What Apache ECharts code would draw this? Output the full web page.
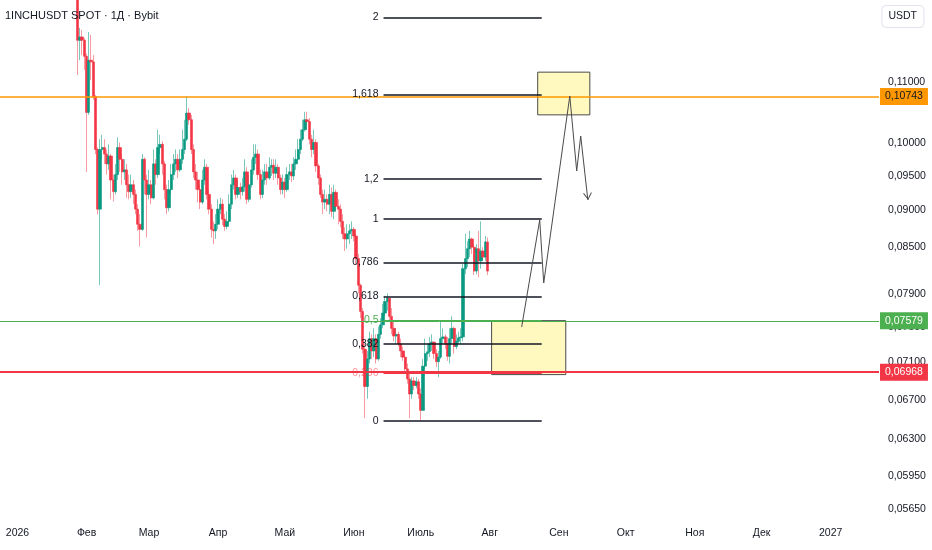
<!DOCTYPE html>
<html><head><meta charset="utf-8">
<script src="https://cdn.jsdelivr.net/npm/echarts@6/dist/echarts.min.js"></script>
<style>html,body{margin:0;padding:0;background:#fff}#c{width:932px;height:550px}</style>
</head><body><div id="c"></div>
<script>
const FONT = "'Liberation Sans','Roboto',sans-serif";
// daily candles, consecutive days; day index counted from 1 Jan 2026
const firstDay = 27;
const firstOpen = 0.1309;
const closes = [
0.1174,0.1180,0.1174,0.1145,0.1049,0.1138,0.1135,0.1075,0.0990,0.0902,
0.0990,0.0993,0.0983,0.0968,0.0980,0.0944,0.0927,0.0952,0.0993,0.0975,
0.0956,0.0959,0.0937,0.0927,0.0937,0.0923,0.0902,0.0881,0.0874,0.0975,
0.0944,0.0923,0.0937,0.0918,0.0968,0.0952,0.0993,0.0998,0.0968,0.0930,
0.0904,0.0930,0.0952,0.0968,0.0975,0.0959,0.0975,0.0990,0.1006,0.1048,
0.1037,0.0990,0.0956,0.0944,0.0930,0.0912,0.0944,0.0963,0.0923,0.0902,
0.0874,0.0872,0.0881,0.0902,0.0909,0.0888,0.0878,0.0885,0.0909,0.0937,
0.0947,0.0923,0.0933,0.0927,0.0934,0.0956,0.0916,0.0937,0.0959,0.0978,
0.0983,0.0952,0.0923,0.0944,0.0956,0.0947,0.0963,0.0966,0.0954,0.0963,
0.0947,0.0930,0.0941,0.0930,0.0952,0.0956,0.0950,0.0968,0.0975,0.0990,
0.1006,0.1021,0.1037,0.1034,0.1006,0.0990,0.1001,0.0965,0.0947,0.0923,
0.0912,0.0916,0.0909,0.0923,0.0899,0.0926,0.0906,0.0902,0.0885,0.0868,
0.0861,0.0868,0.0872,0.0874,0.0865,0.0835,0.0801,0.0769,0.0725,0.0684,
0.0714,0.0737,0.0723,0.0737,0.0714,0.0742,0.0753,0.0767,0.0781,0.0785,
0.0763,0.0749,0.0740,0.0742,0.0731,0.0723,0.0716,0.0703,0.0692,0.0676,
0.0690,0.0685,0.0689,0.0676,0.0659,0.0706,0.0720,0.0722,0.0731,0.0733,
0.0720,0.0711,0.0716,0.0737,0.0739,0.0731,0.0717,0.0737,0.0749,0.0728,
0.0734,0.0738,0.0739,0.0822,0.0835,0.0848,0.0861,0.0850,0.0819,0.0848,
0.0832,0.0845,0.0837,0.0857,0.0819];
const highs = [
0.1319,0.1197,0.1193,0.1178,0.1150,0.1189,0.1184,0.1147,0.1078,0.0993,
0.1006,0.1013,0.1006,0.0990,0.0998,0.0983,0.0952,0.0968,0.1009,0.1001,
0.0983,0.0975,0.0968,0.0952,0.0952,0.0944,0.0930,0.0909,0.0895,0.0983,
0.0978,0.0952,0.0959,0.0944,0.0990,0.0975,0.1021,0.1013,0.1003,0.0972,
0.0937,0.0944,0.0968,0.0983,0.0990,0.0983,0.0990,0.1021,0.1037,0.1075,
0.1056,0.1045,0.0998,0.0968,0.0956,0.0937,0.0959,0.0975,0.0968,0.0930,
0.0909,0.0885,0.0895,0.0916,0.0918,0.0916,0.0895,0.0899,0.0923,0.0952,
0.0959,0.0952,0.0944,0.0940,0.0947,0.0975,0.0963,0.0952,0.0975,0.0998,
0.0998,0.0990,0.0959,0.0959,0.0968,0.0968,0.0978,0.0975,0.0975,0.0975,
0.0968,0.0952,0.0952,0.0947,0.0963,0.0968,0.0968,0.0978,0.0990,0.1006,
0.1021,0.1037,0.1050,0.1050,0.1040,0.1013,0.1021,0.1006,0.0968,0.0952,
0.0930,0.0930,0.0923,0.0937,0.0933,0.0937,0.0930,0.0916,0.0909,0.0895,
0.0877,0.0881,0.0881,0.0885,0.0877,0.0868,0.0841,0.0803,0.0773,0.0731,
0.0723,0.0745,0.0742,0.0749,0.0742,0.0751,0.0761,0.0778,0.0788,0.0791,
0.0785,0.0773,0.0758,0.0749,0.0745,0.0737,0.0728,0.0720,0.0709,0.0698,
0.0694,0.0694,0.0694,0.0692,0.0682,0.0714,0.0737,0.0731,0.0739,0.0742,
0.0734,0.0725,0.0723,0.0758,0.0749,0.0742,0.0739,0.0749,0.0763,0.0751,
0.0742,0.0745,0.0749,0.0828,0.0868,0.0858,0.0872,0.0863,0.0854,0.0854,
0.0872,0.0885,0.0850,0.0865,0.0863];
const lows = [
0.1112,0.1138,0.1147,0.1121,0.0956,0.1045,0.1103,0.1070,0.0983,0.0895,
0.0801,0.0975,0.0968,0.0952,0.0959,0.0916,0.0913,0.0923,0.0944,0.0956,
0.0937,0.0944,0.0918,0.0916,0.0918,0.0909,0.0895,0.0872,0.0851,0.0872,
0.0923,0.0863,0.0916,0.0909,0.0916,0.0937,0.0947,0.0983,0.0952,0.0916,
0.0895,0.0899,0.0923,0.0944,0.0956,0.0947,0.0956,0.0968,0.0983,0.1003,
0.1029,0.0983,0.0947,0.0930,0.0912,0.0902,0.0909,0.0937,0.0916,0.0895,
0.0863,0.0854,0.0861,0.0874,0.0895,0.0880,0.0872,0.0874,0.0881,0.0902,
0.0930,0.0916,0.0918,0.0916,0.0921,0.0927,0.0909,0.0912,0.0933,0.0952,
0.0968,0.0944,0.0916,0.0918,0.0937,0.0937,0.0944,0.0950,0.0944,0.0947,
0.0937,0.0923,0.0923,0.0918,0.0927,0.0944,0.0941,0.0944,0.0959,0.0972,
0.0983,0.1003,0.1018,0.1021,0.0998,0.0978,0.0983,0.0956,0.0937,0.0918,
0.0895,0.0902,0.0899,0.0895,0.0891,0.0888,0.0899,0.0881,0.0877,0.0861,
0.0845,0.0848,0.0854,0.0861,0.0858,0.0828,0.0791,0.0761,0.0720,0.0651,
0.0671,0.0709,0.0714,0.0716,0.0709,0.0712,0.0737,0.0749,0.0763,0.0770,
0.0758,0.0742,0.0734,0.0731,0.0728,0.0716,0.0712,0.0698,0.0687,0.0651,
0.0671,0.0680,0.0682,0.0671,0.0649,0.0659,0.0703,0.0712,0.0716,0.0723,
0.0714,0.0705,0.0694,0.0714,0.0731,0.0725,0.0712,0.0709,0.0731,0.0720,
0.0725,0.0731,0.0731,0.0734,0.0815,0.0824,0.0837,0.0841,0.0814,0.0815,
0.0811,0.0822,0.0832,0.0832,0.0814];

const monthDays = [0,31,59,90,120,151,181,212,243,273,304,334,365];
const monthLabels = ['2026','Фев','Мар','Апр','Май','Июн','Июль','Авг','Сен','Окт','Ноя','Дек','2027'];
const priceTicks = [0.11,0.10,0.095,0.09,0.085,0.079,0.075,0.071,0.067,0.063,0.0595,0.0565];
const priceMin = 0.05545, priceMax = 0.12501;
const dayMin = -7.87, dayMax = 386.7;

const hLinePrices = [0.10743, 0.07579, 0.06968];
const fibLevels = [2, 1.618, 1.2, 1, 0.786, 0.618, 0.5, 0.382, 0.236, 0];
const fibLabels = ['2','1,618','1,2','1','0,786','0,618','0,5','0,382','0,236','0'];
const fibLow = 0.06482, fibHigh = 0.0888;
const fibStartDay = 164.3, fibEndDay = 235.3;
const zoneDays = [[233.5, 256.9], [212.8, 246.1]];
const zonePrices = [[0.1117, 0.1045], [0.0758, 0.06968]];
const pathDays = [226.3, 234.4, 236.2, 247.9, 251.0, 252.8, 256.0];
const pathPrices = [0.07506, 0.08869, 0.08039, 0.10762, 0.09574, 0.10111, 0.09151];

// styles
const UP = '#089981', DOWN = '#f23645';
const hLineStyle = [
  {line:'#ff9800', bg:'#ff9800', text:'#131722', w:1.5},
  {line:'#4caf50', bg:'#4caf50', text:'#ffffff', w:1},
  {line:'#f23645', bg:'#f23645', text:'#ffffff', w:2}
];
const fibColor = {'0,5':'#4caf50', '0,236':'#f23645'};
const fibLabelColor = {'0,5':'#4caf50', '0,236':'rgba(242,54,69,0.55)'};
const FS = 10.5;

const L = Math.log;
const opens = closes.map((c, i) => i === 0 ? firstOpen : closes[i - 1]);
// full candles (drawn thin, light: wicks)
const wickData = closes.map((c, i) => [firstDay + i, L(opens[i]), L(c), L(lows[i]), L(highs[i])]);
// bodies only (drawn on top, solid)
const bodyData = closes.map((c, i) => {
  const o = opens[i];
  return [firstDay + i, L(o), L(c), L(Math.min(o, c)), L(Math.max(o, c))];
});

const fibLines = fibLevels.map((lv, i) => {
  const p = fibLow * Math.pow(fibHigh / fibLow, lv);
  const name = fibLabels[i];
  const col = fibColor[name] || '#131722';
  return [
    {coord: [fibStartDay, L(p)],
     lineStyle: {color: col, width: fibColor[name] ? 1 : 1.5, type: 'solid'},
     label: {show: true, position: 'start', distance: 5, formatter: name,
             color: fibLabelColor[name] || '#131722', fontSize: FS, fontFamily: FONT}},
    {coord: [fibEndDay, L(p)]}
  ];
});

const hLines = hLinePrices.map((p, i) => ({
  yAxis: L(p),
  lineStyle: {color: hLineStyle[i].line, width: hLineStyle[i].w, type: 'solid'},
  label: {show: true, position: 'end', distance: 1,
          formatter: p.toFixed(5).replace('.', ','),
          backgroundColor: hLineStyle[i].bg, color: hLineStyle[i].text,
          padding: [3, 5, 3, 5], fontSize: FS, fontFamily: FONT}
}));

const zones = zoneDays.map((xs, i) => [
  {coord: [xs[0], L(zonePrices[i][0])]},
  {coord: [xs[1], L(zonePrices[i][1])]}
]);

const pathData = pathDays.map((d, i) => [d, L(pathPrices[i])]);
const last = pathData[pathData.length - 1];

const chart = echarts.init(document.getElementById('c'), null, {renderer: 'canvas'});
chart.setOption({
  animation: false,
  backgroundColor: '#ffffff',
  title: [
    {text: '1INCHUSDT SPOT · 1Д · Bybit', left: 0, top: 5, padding: 5,
     textStyle: {fontSize: 11, fontWeight: 'normal', color: '#131722', fontFamily: FONT}},
    {text: 'USDT', right: 8, top: 5, padding: [6, 7], borderColor: '#e0e3eb', borderWidth: 1, borderRadius: 4,
     textStyle: {fontSize: FS, fontWeight: 'normal', color: '#131722', fontFamily: FONT}}
  ],
  grid: {left: 0, right: 53, top: 0, bottom: 29, containLabel: false},
  xAxis: {
    type: 'value', min: dayMin, max: dayMax,
    axisLine: {show: false}, axisTick: {show: false}, splitLine: {show: false},
    axisLabel: {
      customValues: monthDays, margin: 7, fontSize: FS, color: '#131722', fontFamily: FONT,
      formatter: v => { const k = monthDays.indexOf(Math.round(v)); return k >= 0 ? monthLabels[k] : ''; }
    }
  },
  yAxis: {
    type: 'value', position: 'right', min: L(priceMin), max: L(priceMax), scale: true,
    axisLine: {show: false}, axisTick: {show: false}, splitLine: {show: false},
    axisLabel: {
      customValues: priceTicks.map(L), margin: 9, fontSize: FS, color: '#131722', fontFamily: FONT,
      formatter: v => Math.exp(v).toFixed(5).replace('.', ',')
    }
  },
  series: [
    {
      type: 'candlestick',
      encode: {x: 0, y: [1, 2, 3, 4]},
      data: wickData,
      barWidth: 1,
      clip: true,
      z: 2,
      itemStyle: {color: 'rgba(8,153,129,0.55)', color0: 'rgba(242,54,69,0.5)',
                  borderColor: 'rgba(8,153,129,0.55)', borderColor0: 'rgba(242,54,69,0.5)', borderWidth: 1},
      markArea: {
        silent: true,
        itemStyle: {color: 'rgba(255,235,59,0.32)', borderColor: '#4a4a4a', borderWidth: 1},
        data: zones
      },
      markLine: {
        silent: true, symbol: 'none', animation: false,
        data: fibLines.concat(hLines)
      }
    },
    {
      type: 'candlestick',
      encode: {x: 0, y: [1, 2, 3, 4]},
      data: bodyData,
      barWidth: 2.8,
      clip: true,
      z: 3,
      itemStyle: {color: UP, color0: DOWN, borderColor: UP, borderColor0: DOWN, borderWidth: 0.6}
    },
    {
      type: 'line',
      data: pathData,
      symbol: 'none',
      lineStyle: {color: '#4a4a4a', width: 1},
      z: 5,
      markPoint: {
        silent: true,
        data: [{coord: last, symbol: 'path://M0,0 L1.2,0 L5,6.2 L8.8,0 L10,0 L5,8 Z',
                symbolSize: [9, 7], symbolOffset: [0, -3.5], symbolRotate: 6,
                itemStyle: {color: '#4a4a4a'}, label: {show: false}}]
      }
    }
  ]
});
</script>
</body></html>
